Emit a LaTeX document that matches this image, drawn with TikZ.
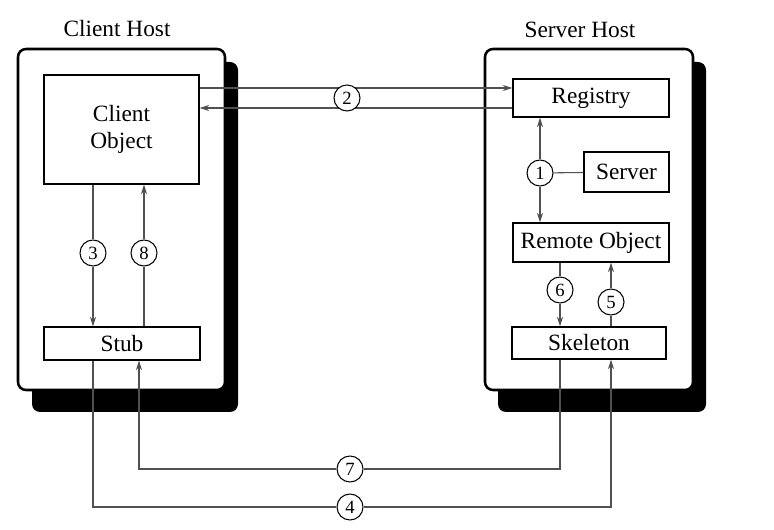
\documentclass[tikz,border=0pt]{standalone}
\usepackage{fontspec}
\setmainfont{Liberation Serif}
\usetikzlibrary{arrows.meta,positioning}
\definecolor{RMILine}{HTML}{505050}

\begin{document}
\begin{tikzpicture}[
  x=0.75pt, y=-0.75pt,
  hostbox/.style={draw=black, fill=white, line width=1.9pt, rounded corners=6pt},
  hostshadow/.style={fill=black, rounded corners=6pt},
  hostlabel/.style={font=\fontsize{17.5}{20}\selectfont},
  objbox/.style={draw=black, fill=white, line width=1pt, align=center, inner sep=0pt, font=\fontsize{17.5}{20}\selectfont},
  numcirc/.style={circle, draw=black, fill=white, line width=0.8pt, minimum size=19.5pt, inner sep=0pt, font=\fontsize{14}{15}\selectfont},
  link/.style={draw=RMILine, line width=0.8pt},
  flow/.style={link, -{Stealth[length=7pt, width=4.5pt, inset=2pt]}}
]
\useasboundingbox (0,0) rectangle (774,530);

% hosts
\fill[hostshadow] (32,62) rectangle (238,412);
\fill[hostshadow] (498,62) rectangle (706,412);
\draw[hostbox] (18,49) rectangle (225,390);
\draw[hostbox] (485,49) rectangle (693,390);
\node[hostlabel] (chost) at (117,29) {Client Host};
\node[hostlabel] (shost) at (580,30) {Server Host};

% objects
\node[objbox, minimum width=116.25pt, minimum height=81.75pt] (cobj) at (121.5,129.5) {Client\\Object};
\node[objbox, minimum width=117pt, minimum height=24.75pt] (stub) at (122,343.5) {Stub};
\node[objbox, minimum width=117pt, minimum height=28.5pt] (reg) at (591,98) {Registry};
\node[objbox, minimum width=63.75pt, minimum height=30pt] (srv) at (626.5,172) {Server};
\node[objbox, minimum width=117pt, minimum height=29.25pt] (robj) at (591,242.5) {Remote Object};
\node[objbox, minimum width=115.5pt, minimum height=24pt] (skel) at (589,343) {Skeleton};

% corner points of the long connectors
\coordinate (t2) at (347,88);
\coordinate (b2) at (347,108);
\coordinate (c7a) at (560,469);
\coordinate (c7b) at (139,469);
\coordinate (c4a) at (93,507);
\coordinate (c4b) at (611,507);

\draw[flow] (cobj.east |- t2) -- (reg.west |- t2);
\draw[flow] (reg.west |- b2) -- (cobj.east |- b2);

% numbered steps
\node[numcirc] (n1) at (540,173) {1};
\node[numcirc] (n2) at (347,98) {2};
\node[numcirc] (n3) at (93,253) {3};
\node[numcirc] (n8) at (144,253) {8};
\node[numcirc] (n6) at (560,290) {6};
\node[numcirc] (n5) at (611,302) {5};
\node[numcirc] (n7) at (350,469) {7};
\node[numcirc] (n4) at (350,507) {4};

\draw[flow] (n1) -- (reg.south -| n1);
\draw[flow] (n1) -- (robj.north -| n1);
\draw[link] (n1) -- (srv);

\draw[link] (cobj.south -| n3) -- (n3);
\draw[flow] (n3) -- (stub.north -| n3);
\draw[link] (stub.north -| n8) -- (n8);
\draw[flow] (n8) -- (cobj.south -| n8);

\draw[link] (robj.south -| n6) -- (n6);
\draw[flow] (n6) -- (skel.north -| n6);
\draw[link] (skel.north -| n5) -- (n5);
\draw[flow] (n5) -- (robj.south -| n5);

\draw[link] (skel.south -| c7a) -- (c7a) -- (n7);
\draw[flow] (n7) -- (c7b) -- (stub.south -| c7b);
\draw[link] (stub.south -| c4a) -- (c4a) -- (n4);
\draw[flow] (n4) -- (c4b) -- (skel.south -| c4b);
\end{tikzpicture}
\end{document}
